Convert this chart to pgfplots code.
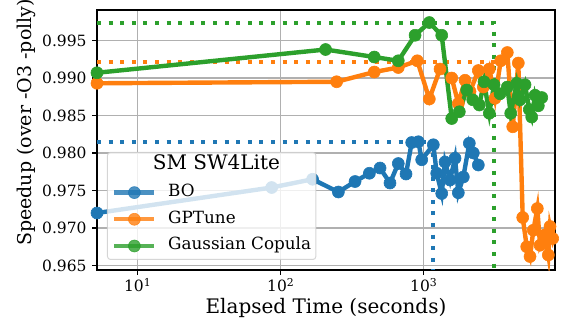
\documentclass[border=0pt]{standalone}
\usepackage{fontspec}
\setmainfont{DejaVu Serif}
\usepackage{pgfplots}
\pgfplotsset{compat=1.18}
\definecolor{tabblue}{HTML}{1F77B4}
\definecolor{taborange}{HTML}{FF7F0E}
\definecolor{tabgreen}{HTML}{2CA02C}
\definecolor{gridgray}{HTML}{B0B0B0}
\definecolor{legendgray}{HTML}{CCCCCC}

\pgfplotsset{
  best/.style={forget plot, line width=4pt, dash pattern=on 4pt off 7.6pt, line cap=butt},
  run/.style={line width=4.4pt, mark=*, mark options={solid, line width=0.6pt, mark size=6pt}},
}

\begin{document}
\begin{tikzpicture}
\begin{axis}[
  at={(0,0)}, anchor=south west,
  scale only axis, width=458pt, height=260pt,
  xmode=log, log basis x=10,
  xmin=5.193, xmax=8279, ymin=0.9644, ymax=0.99907,
  xtick={10,100,1000},
  xticklabels={10\textsuperscript{1},10\textsuperscript{2},10\textsuperscript{3}},
  ytick={0.965,0.970,0.975,0.980,0.985,0.990,0.995},
  yticklabels={0.965,0.970,0.975,0.980,0.985,0.990,0.995},
  grid=major, major grid style={gridgray, line width=1.1pt},
  tick pos=left, tick align=outside,
  major tick length=4.9pt, minor tick length=2.8pt,
  every tick/.style={black, line width=1.1pt},
  axis line style={line width=1.1pt},
  ticklabel style={font=\fontsize{15.5}{18}\selectfont},
  yticklabel style={xshift=-2pt},
  xlabel style={font=\fontsize{20}{24}\selectfont},
  ylabel style={font=\fontsize{19}{23}\selectfont, at={(ticklabel cs:0.567)}},
  xlabel={Elapsed Time (seconds)},
  ylabel={Speedup (over -O3 -polly)},
  legend cell align=left,
  legend image code/.code={\draw[mark repeat=2, mark phase=2] plot coordinates {(0pt,0pt) (20pt,0pt) (40pt,0pt)};},
  legend style={at={(0.0218,0.0385)}, anchor=south west, draw=legendgray, line width=1pt,
    rounded corners=3pt, fill=white, fill opacity=0.8, draw opacity=0.8, text opacity=1,
    font=\fontsize{16.8}{20}\selectfont, row sep=11.7pt, column sep=11.6pt,
    inner xsep=4.7pt, inner ysep=6pt,
    nodes={inner sep=0pt, text height=11.5pt, text depth=3.5pt}},
]
% best-so-far guides
\addplot[best, tabblue] coordinates {(5.193,0.9815) (1167,0.9815) (1167,0.9644)};
\addplot[best, taborange] coordinates {(5.193,0.9922) (3150,0.9922)};
\addplot[best, tabgreen] coordinates {(5.193,0.9974) (3100,0.9974) (3100,0.9644)};

\addlegendimage{empty legend}
\addlegendentry[font=\fontsize{20}{24}\selectfont]{\hspace*{-15.3pt}SM SW4Lite}

\addplot[run, tabblue] coordinates {
  (5.193,0.9720) (86.5,0.9754) (167,0.9765) (253,0.9748) (331,0.9762) (417,0.9773)
  (495,0.9780) (581,0.9760) (664,0.9786) (752,0.9772) (824,0.9814) (917,0.9815)
  (968,0.9791) (1167,0.9811) (1233,0.9773) (1336,0.9746) (1409,0.9788) (1527,0.9764)
  (1655,0.9793) (1746,0.9747) (1892,0.9768) (2084,0.9813) (2223,0.9800) (2409,0.9784)};
\addlegendentry{BO}

\addplot[run, taborange] coordinates {
  (5.193,0.9893) (246,0.9895) (451,0.9908) (664,0.9914) (902,0.9923) (1094,0.9872)
  (1300,0.9912) (1570,0.9900) (1746,0.9866) (1945,0.9897) (2108,0.9882) (2409,0.9910)
  (2611,0.9888) (2875,0.9912) (3152,0.9873) (3455,0.9923) (3842,0.9934) (4192,0.9835)
  (4586,0.9920) (4923,0.9714) (5252,0.9675) (5538,0.9662) (5841,0.9697) (6230,0.9726)
  (6508,0.9677) (7053,0.9691) (7436,0.9664) (7642,0.9702) (7980,0.9686) (8300,0.9700)};
\addlegendentry{GPTune}

\addplot[run, tabgreen] coordinates {
  (5.193,0.9907) (206,0.9938) (451,0.9928) (664,0.9923) (870,0.9957) (1094,0.9974)
  (1336,0.9957) (1570,0.9846) (1774,0.9855) (1999,0.9884) (2201,0.9871) (2448,0.9864)
  (2641,0.9895) (2875,0.9853) (3101,0.9891) (3417,0.9879) (3842,0.9888) (4058,0.9853)
  (4470,0.9893) (4714,0.9871) (5110,0.9891) (5476,0.9858) (5690,0.9848) (6003,0.9877)
  (6330,0.9863) (6688,0.9874)};
\addlegendentry{Gaussian Copula}
\end{axis}
\pgfresetboundingbox
\path (-97pt,-65pt) rectangle (468pt,270pt);
\end{tikzpicture}
\end{document}
